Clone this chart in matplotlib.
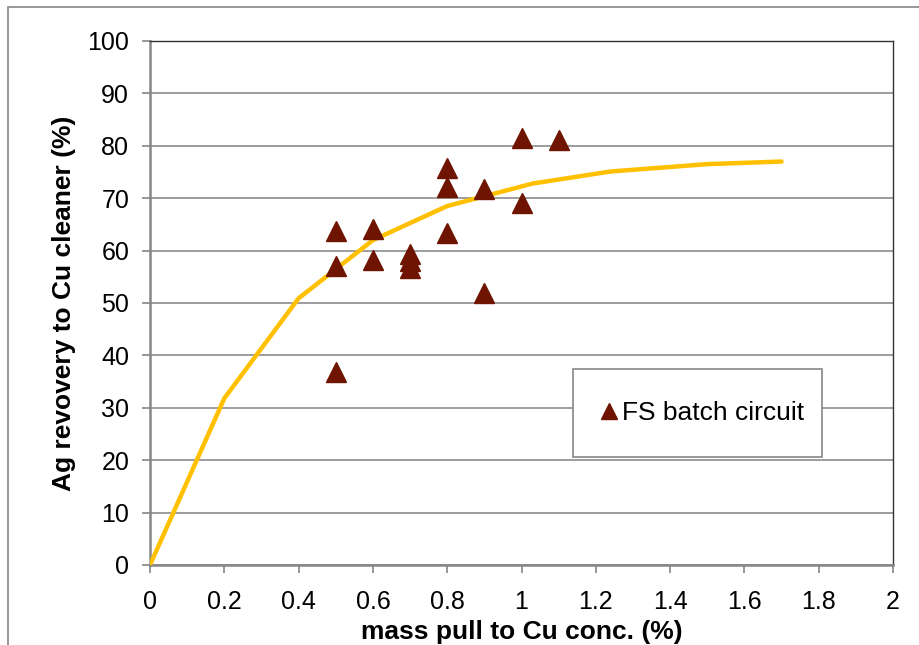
import matplotlib
matplotlib.use("Agg")
import matplotlib.pyplot as plt
from matplotlib.patches import Rectangle

plt.rcParams['font.family'] = ['Liberation Sans', 'DejaVu Sans']

# FS batch circuit tests
batch_x = [0.5, 0.5, 0.5, 0.6, 0.6, 0.7, 0.7, 0.7, 0.8, 0.8, 0.8, 0.9, 0.9, 1.0, 1.0, 1.1]
batch_y = [63.7, 57.0, 36.8, 64.2, 58.3, 59.4, 58.0, 56.6, 75.8, 72.2, 63.4, 71.8, 52.0, 81.4, 69.1, 81.2]

# recovery curve
curve_x = [0, 0.2, 0.4, 0.6, 0.8, 1.03, 1.24, 1.5, 1.7]
curve_y = [0, 31.8, 50.9, 62.0, 68.5, 72.8, 75.1, 76.5, 77.0]

fig = plt.figure(figsize=(9.19, 6.45), dpi=100)
ax = fig.add_axes([150 / 919, 1 - 565 / 645, 743 / 919, 524 / 645])

ax.plot(curve_x, curve_y, color='#FFC000', lw=3.2, solid_capstyle='round', zorder=3)
ax.plot(batch_x, batch_y, '^', color='#6E1400', ms=14, ls='none',
        label='FS batch circuit', zorder=4)

ax.set_xlim(0, 2)
ax.set_ylim(0, 100)
ax.set_xticks([0, 0.2, 0.4, 0.6, 0.8, 1, 1.2, 1.4, 1.6, 1.8, 2])
ax.set_xticklabels(['0', '0.2', '0.4', '0.6', '0.8', '1', '1.2', '1.4', '1.6', '1.8', '2'])
ax.set_yticks(range(0, 101, 10))
ax.yaxis.grid(True, color='#8c8c8c', lw=1.2)
ax.set_axisbelow(True)

for s in ['top', 'right']:
    ax.spines[s].set_color('#333333')
    ax.spines[s].set_linewidth(1.0)
for s in ['left', 'bottom']:
    ax.spines[s].set_color('#868686')
    ax.spines[s].set_linewidth(1.8)
ax.tick_params(direction='out', length=6, width=1.2, color='#868686',
               labelsize=18)
ax.tick_params(axis='y', pad=9)
ax.tick_params(axis='x', pad=12)

ax.set_xlabel('mass pull to Cu conc. (%)', fontsize=19, fontweight='bold', labelpad=4)
ax.set_ylabel('Ag revovery to Cu cleaner (%)', fontsize=19, fontweight='bold', labelpad=8)

# legend box drawn separately so its padding matches
ax.add_patch(Rectangle(((573 - 150) / 743, (565 - 457) / 524), 249 / 743, 88 / 524,
                       transform=ax.transAxes, facecolor='white',
                       edgecolor='#868686', lw=1.2, zorder=5))
leg = ax.legend(loc='center', bbox_to_anchor=((700 - 150) / 743, (565 - 413) / 524),
                fontsize=19, frameon=False, handletextpad=0.0,
                handlelength=1.0, borderpad=0, borderaxespad=0,
                markerscale=0.85)
leg.set_zorder(6)

# outer chart border
fig.patches.append(Rectangle((8 / 919, -0.1), 1.2, 1 - 7 / 645 + 0.1,
                             transform=fig.transFigure, fill=False,
                             edgecolor='#868686', lw=1.2))

fig.savefig('out.png', dpi=100)
